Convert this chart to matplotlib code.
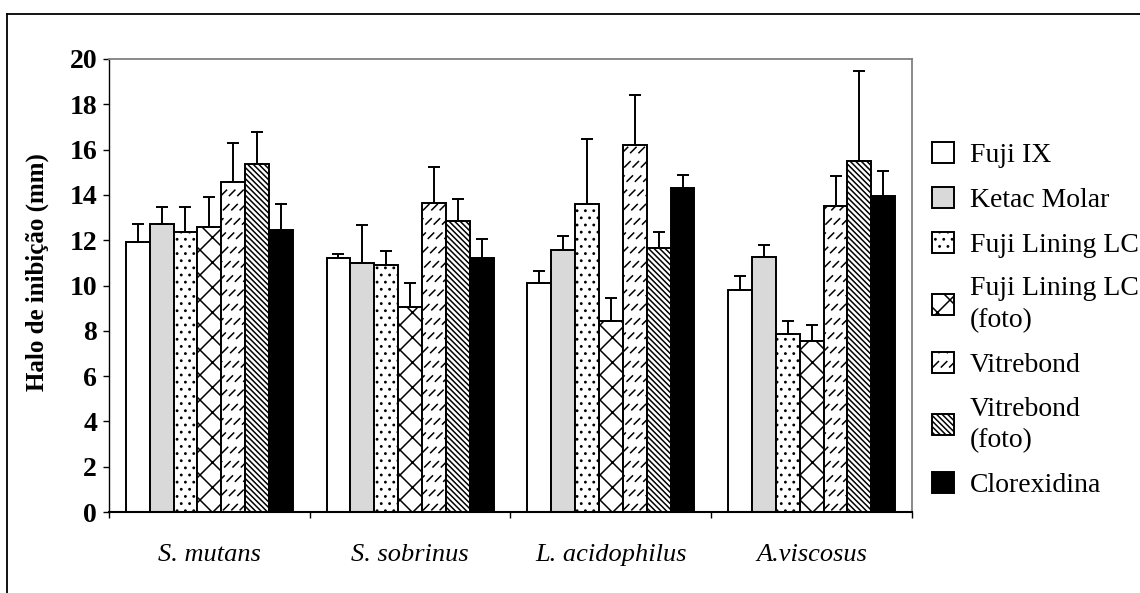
import numpy as np
import matplotlib
matplotlib.use("Agg")
import matplotlib.pyplot as plt
import matplotlib.hatch as mhatch
from matplotlib.path import Path
from matplotlib.lines import Line2D

# ---------------- data ----------------
categories = ["S. mutans", "S. sobrinus", "L. acidophilus", "A.viscosus"]
series_names = ["Fuji IX", "Ketac Molar", "Fuji Lining LC", "Fuji Lining LC\n(foto)",
                "Vitrebond", "Vitrebond\n(foto)", "Clorexidina"]

fuji_ix = [11.9, 11.2, 10.1, 9.8]
ketac_molar = [12.7, 11.0, 11.55, 11.25]
fuji_lining = [12.35, 10.9, 13.6, 7.85]
fuji_lining_foto = [12.6, 9.05, 8.45, 7.55]
vitrebond = [14.55, 13.65, 16.2, 13.5]
vitrebond_foto = [15.35, 12.85, 11.65, 15.5]
clorexidina = [12.45, 11.2, 14.3, 13.95]

err_fuji_ix = [0.8, 0.17, 0.53, 0.6]
err_ketac_molar = [0.78, 1.69, 0.62, 0.53]
err_fuji_lining = [1.13, 0.62, 2.89, 0.6]
err_fuji_lining_foto = [1.32, 1.06, 0.99, 0.7]
err_vitrebond = [1.75, 1.59, 2.2, 1.32]
err_vitrebond_foto = [1.42, 0.96, 0.7, 3.97]
err_clorexidina = [1.13, 0.85, 0.59, 1.1]

yticks = list(range(0, 21, 2))

# ---------------- custom hatch patterns ----------------
class Dots(mhatch.HatchPatternBase):
    def __init__(self, hatch, density):
        self.on = hatch.count('.') > 0
        self.cols, self.rows, self.r = 12, 14, 0.0065
        c = Path.unit_circle()
        self.cv, self.cc = c.vertices, c.codes
        self.num_vertices = (self.cols * self.rows * len(self.cv)) if self.on else 0

    def set_vertices_and_codes(self, vertices, codes):
        k = 0
        L = len(self.cv)
        for i in range(self.rows):
            for j in range(self.cols):
                cx = (j + 0.25 + 0.5 * (i % 2)) / self.cols
                cy = (i + 0.5) / self.rows
                vertices[k:k + L] = self.cv * self.r + [cx, cy]
                codes[k:k + L] = self.cc
                k += L


class DashNE(mhatch.HatchPatternBase):
    def __init__(self, hatch, density):
        self.on = hatch.count('/') > 0
        self.n, self.m, self.f = 12, 7, 0.38
        self.num_vertices = (2 * self.n * self.m * 2) if self.on else 0

    def set_vertices_and_codes(self, vertices, codes):
        k = 0
        ph = (1 - self.f) / (2 * self.m)
        for o in range(-self.n, self.n):
            off = o / self.n
            for j in range(self.m):
                t0 = j / self.m + ph
                t1 = t0 + self.f / self.m
                vertices[k] = [off + t0, t0]
                vertices[k + 1] = [off + t1, t1]
                codes[k] = Path.MOVETO
                codes[k + 1] = Path.LINETO
                k += 2


class SEDense(mhatch.HatchPatternBase):
    def __init__(self, hatch, density):
        self.on = hatch.count('\\') > 0
        self.n = 36
        self.num_vertices = (2 * (self.n + 1)) if self.on else 0

    def set_vertices_and_codes(self, vertices, codes):
        steps = np.linspace(-0.5, 0.5, self.n + 1)
        vertices[0::2, 0] = 0.0 + steps
        vertices[0::2, 1] = 1.0 + steps
        vertices[1::2, 0] = 1.0 + steps
        vertices[1::2, 1] = 0.0 + steps
        codes[0::2] = Path.MOVETO
        codes[1::2] = Path.LINETO


class Cross(mhatch.HatchPatternBase):
    def __init__(self, hatch, density):
        self.on = hatch.count('x') > 0
        self.n = 8
        self.num_vertices = (4 * (self.n + 1)) if self.on else 0

    def set_vertices_and_codes(self, vertices, codes):
        steps = np.linspace(-0.5, 0.5, self.n + 1)
        N = self.n + 1
        v1 = np.empty((2 * N, 2))
        v1[0::2, 0] = 0.0 + steps
        v1[0::2, 1] = 0.0 - steps
        v1[1::2, 0] = 1.0 + steps
        v1[1::2, 1] = 1.0 - steps
        v2 = np.empty((2 * N, 2))
        v2[0::2, 0] = 0.0 + steps
        v2[0::2, 1] = 1.0 + steps
        v2[1::2, 0] = 1.0 + steps
        v2[1::2, 1] = 0.0 + steps
        vertices[:2 * N] = v1
        vertices[2 * N:] = v2
        codes[0::2] = Path.MOVETO
        codes[1::2] = Path.LINETO


mhatch._hatch_types[:] = [Dots, DashNE, SEDense, Cross]

# ---------------- styling ----------------
plt.rcParams['font.family'] = ['Liberation Serif', 'DejaVu Serif']
plt.rcParams['hatch.linewidth'] = 1.1
plt.rcParams['hatch.color'] = 'black'

means = [fuji_ix, ketac_molar, fuji_lining, fuji_lining_foto, vitrebond, vitrebond_foto, clorexidina]
errs = [err_fuji_ix, err_ketac_molar, err_fuji_lining, err_fuji_lining_foto,
        err_vitrebond, err_vitrebond_foto, err_clorexidina]
facecolors = ['white', '#D9D9D9', 'white', 'white', 'white', 'white', 'black']
hatches = [None, None, '.', 'x', '/', '\\', None]

fig = plt.figure(figsize=(11.4, 5.93), dpi=100)
ax = fig.add_axes([109 / 1140, 1 - 512 / 593, (912 - 109) / 1140, (512 - 59) / 593])

x = np.arange(len(categories))
w = 0.119
handles = []
for i, (m, e) in enumerate(zip(means, errs)):
    pos = x + (i - 3) * w
    b = ax.bar(pos, m, width=w, color=facecolors[i], edgecolor='black', linewidth=1.4,
               hatch=hatches[i], label=series_names[i], zorder=2)
    handles.append(b)
    ax.errorbar(pos, m, yerr=[np.zeros(len(e)), e], fmt='none', ecolor='black',
                elinewidth=1.4, capsize=4.5, capthick=1.4, zorder=3)

ax.set_xlim(-0.5, len(categories) - 0.5)
ax.set_ylim(0, 20)
ax.set_yticks(yticks)
ax.set_yticklabels([str(t) for t in yticks], fontsize=20, fontweight='bold')
ax.tick_params(axis='y', direction='out', length=4.5, width=1, pad=4)

ax.set_xticks(x)
ax.set_xticklabels(categories, fontsize=19, style='italic')
ax.tick_params(axis='x', which='major', length=0, pad=23)
ax.set_xticks(np.arange(-0.5, len(categories), 1.0), minor=True)
ax.tick_params(axis='x', which='minor', direction='out', length=4.5, width=1)

for s in ['top', 'right']:
    ax.spines[s].set_color('#808080')
    ax.spines[s].set_linewidth(1.3)
ax.spines['left'].set_color('black')
ax.spines['left'].set_linewidth(1.0)
ax.spines['bottom'].set_color('black')
ax.spines['bottom'].set_linewidth(1.5)

ax.set_ylabel("Halo de inibição (mm)", fontsize=18, fontweight='bold')
ax.yaxis.set_label_coords(-0.075, 0.53)

leg = fig.legend(handles=handles, labels=series_names, loc='center left',
                 bbox_to_anchor=(932 / 1140, 1 - 320 / 593), frameon=False,
                 fontsize=20, handlelength=0.8, handleheight=0.8,
                 handletextpad=0.55, labelspacing=0.67, borderpad=0, borderaxespad=0)
for t in leg.get_texts():
    t.set_linespacing(1.35)

# outer frame (top and left borders of the chart area)
fig.add_artist(Line2D([7 / 1140, 7 / 1140], [0, 1 - 14 / 593], transform=fig.transFigure,
                      color='black', linewidth=1.3))
fig.add_artist(Line2D([7 / 1140, 1], [1 - 14 / 593, 1 - 14 / 593], transform=fig.transFigure,
                      color='black', linewidth=1.3))

fig.savefig("out.png", dpi=100)
